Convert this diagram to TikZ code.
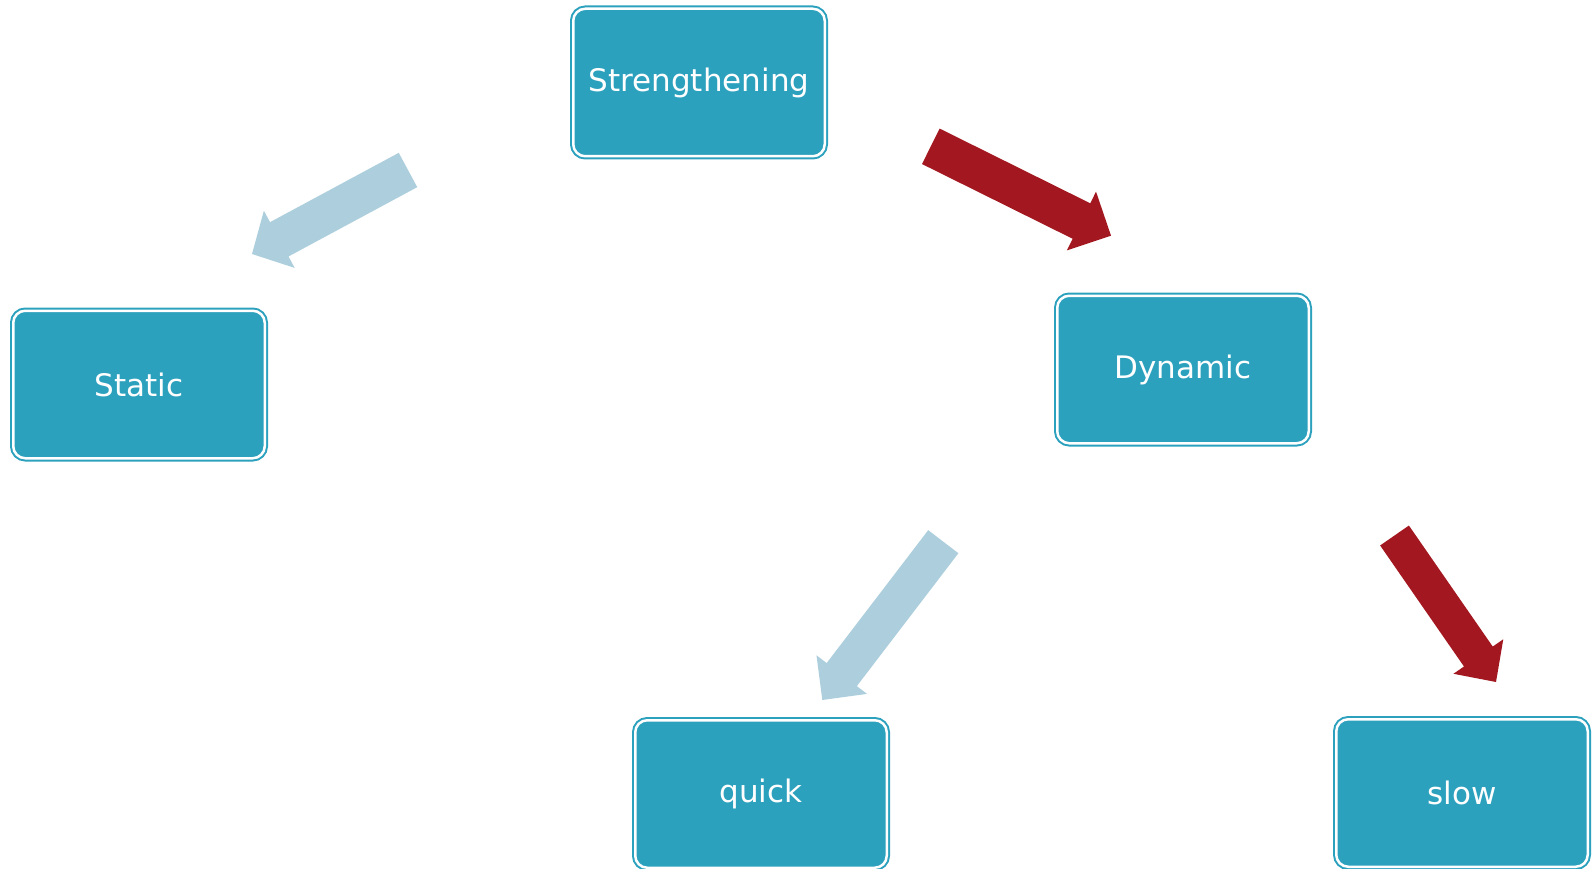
\documentclass[tikz,border=0pt]{standalone}
\usepackage{fontspec}
\setmainfont{DejaVu Sans}
\usetikzlibrary{calc}
\definecolor{boxteal}{RGB}{44,161,190}
\definecolor{lightarrow}{RGB}{173,207,221}
\definecolor{redarrow}{RGB}{163,24,32}
\tikzset{
  box/.style={draw=boxteal, line width=2pt, double=white, double distance=2.5pt,
    fill=boxteal, rounded corners=12pt, minimum width=251.5pt, minimum height=147.5pt,
    inner sep=0pt, text=white, font=\fontsize{31}{37}\selectfont},
  lightblock/.style={fill=lightarrow},
  redblock/.style={fill=redarrow},
}
% #1 tail coordinate, #2 tip coordinate, #3 half shaft width, #4 half head width, #5 head length, #6 style
\newcommand{\blockarrow}[6]{%
  \coordinate (#1b) at ($(#2)!#5!(#1)$);
  \fill[#6] ($(#1)!#3!90:(#2)$) -- ($(#1b)!#3!90:(#2)$) -- ($(#1b)!#4!90:(#2)$) -- (#2)
    -- ($(#1b)!#4!-90:(#2)$) -- ($(#1b)!#3!-90:(#2)$) -- ($(#1)!#3!-90:(#2)$) -- cycle;
}
\begin{document}
\begin{tikzpicture}[x=1pt, y=-1pt]
  \useasboundingbox (0,0) rectangle (1594,869);
  \node[box] (strength) at (699,82.5) {Strengthening};
  \node[box] (static) at (139,384.5) {Static};
  \node[box] (dynamic) at (1183,369.5) {Dynamic};
  \node[box] (quick) at (761,794) {quick};
  \node[box] (slow) at (1462,793) {slow};

  \coordinate (aonet) at (408,170);
  \coordinate (aonep) at (252,254);
  \coordinate (atwot) at (930.8,146.3);
  \coordinate (atwop) at (1111,235.7);
  \coordinate (athreet) at (943.3,541.7);
  \coordinate (athreep) at (822.3,700);
  \coordinate (afourt) at (1394.5,535.5);
  \coordinate (afourp) at (1496,682);

  \blockarrow{aonet}{aonep}{19.5pt}{32.5pt}{31pt}{lightblock}
  \blockarrow{atwot}{atwop}{19.8pt}{32.8pt}{33pt}{redblock}
  \blockarrow{athreet}{athreep}{19pt}{31.8pt}{32pt}{lightblock}
  \blockarrow{afourt}{afourp}{17.5pt}{30.3pt}{31pt}{redblock}
\end{tikzpicture}
\end{document}
